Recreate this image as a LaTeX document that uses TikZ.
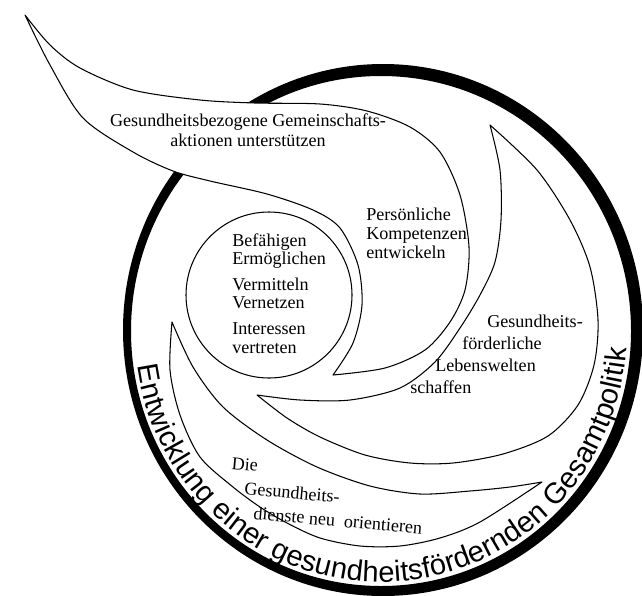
\documentclass[tikz,border=0pt]{standalone}
\usepackage{fontspec}
\setmainfont{Liberation Serif}
\newfontfamily\ringfont{Liberation Sans}
\usetikzlibrary{decorations.text}

\begin{document}
\begin{tikzpicture}[x=0.02cm,y=-0.02cm,
		ring/.style={fill=black,even odd rule},
		wing/.style={draw=black,fill=white,line width=0.6pt,line join=round},
		lbl/.style={inner sep=0pt,align=left,font=\fontsize{10.3}{10.6}\selectfont}]
		\useasboundingbox (0,0) rectangle (642,595);
		\coordinate (ctr) at (381,331);
		\fill[ring] (383,330) ellipse[x radius=260,y radius=266] (ctr) ellipse[x radius=250,y radius=255];
		
		\draw[wing] plot[smooth] coordinates {(25,15) (50,45) (80,68) (133,90) (200,100) (255,103) (320,104) (367,111) (410,127) (440,152) (460,195) (469,247) (465,290) (450,322) (425,350) (385,368) (333,375)}
		-- plot[smooth] coordinates {(333,375) (353,343) (362,305) (358,265) (340,228) (313,210) (267,194) (210,181) (173,171) (133,152) (83,118) (50,65) (25,15)} -- cycle;
		\draw[wing] plot[smooth] coordinates {(490,125) (537,170) (570,220) (590,267) (598,320) (594,365) (578,405) (548,436) (503,454) (453,463) (410,463) (365,455) (320,437) (287,418) (257,395)}
		-- plot[smooth] coordinates {(257,395) (300,400) (350,400) (400,388) (435,362) (460,328) (480,295) (495,262) (501,220) (500,170) (490,125)} -- cycle;
		\draw[wing] plot[smooth] coordinates {(172,322) (170,370) (180,415) (200,457) (233,487) (260,507) (287,523) (320,538) (360,546) (400,546) (440,538) (480,522) (542,482)}
		-- plot[smooth] coordinates {(542,482) (510,487) (470,491) (420,494) (370,486) (317,467) (267,440) (223,407) (193,367) (172,322)} -- cycle;
		\draw[wing] (269,295) circle[radius=83];
		
		\begin{scope}[y=0.02cm]
			\path[decorate,decoration={text along path,text align={fit to path},
				text={|\ringfont\fontsize{16.6}{18}\selectfont|Entwicklung einer gesundheitsfördernden Gesamtpolitik}}]
			([shift={(188:246 and 251)}]ctr) arc[start angle=188,end angle=356,x radius=246,y radius=251];
		\end{scope}
		
		\node[lbl,align=center,anchor=north] (gem)    at (248,113) {Gesundheitsbezogene Gemeinschafts-\\[0.8pt]aktionen unterstützen};
		\node[lbl,anchor=north west]         (komp)   at (366,208) {Persönliche\\Kompetenzen\\entwickeln};
		\node[lbl,anchor=north west]         (core)   at (232,233) {Befähigen\\Ermöglichen\\[4pt]Vermitteln\\Vernetzen\\[4pt]Interessen\\vertreten};
		\node[lbl,anchor=north west,font=\fontsize{10.3}{12.5}\selectfont] (welt) at (410,315)
		{\hspace*{43.8pt}Gesundheits-\\\hspace*{29.6pt}förderliche\\\hspace*{14.2pt}Lebenswelten\\schaffen};
		\node[lbl,anchor=north west,rotate=-5,font=\fontsize{10.3}{13.6}\selectfont] (dienst) at (232,457)
		{Die\\\hspace*{8.5pt}Gesundheits-\\\hspace*{14.8pt}dienste neu\enspace orientieren};
\end{tikzpicture}
\end{document}
